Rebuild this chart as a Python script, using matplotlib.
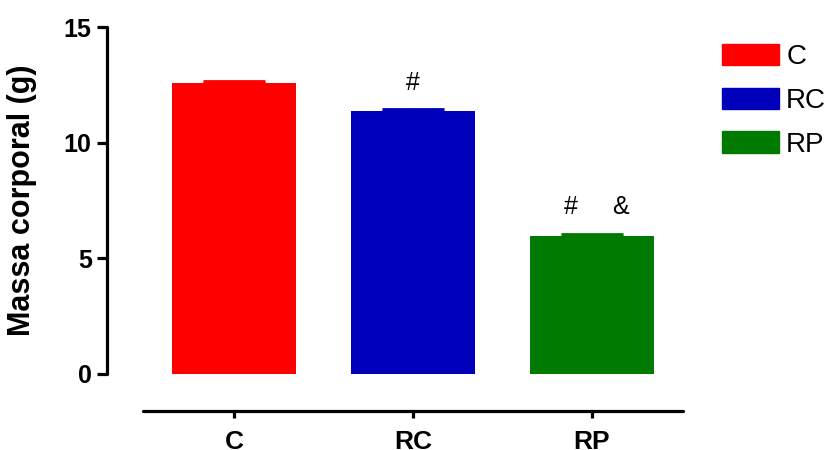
import numpy as np
import matplotlib
matplotlib.use('Agg')
import matplotlib.pyplot as plt
from matplotlib.patches import Patch

groups = ['C', 'RC', 'RP']
means = [12.6, 11.38, 5.97]
sems = [0.07, 0.06, 0.07]
colors = ['#ff0000', '#0000bb', '#007a00']

plt.rcParams['font.family'] = ['Liberation Sans', 'DejaVu Sans']

fig = plt.figure(figsize=(8.29, 4.5), dpi=100)
ax = fig.add_axes([107 / 829, 1 - 411 / 450, 576 / 829, 384 / 450])

x = np.arange(len(groups))
ax.bar(x, means, width=0.69, color=colors, zorder=2)
for xi, m, s, c in zip(x, means, sems, colors):
    ax.errorbar(xi, m, yerr=[[0], [s]], color=c, capsize=22, capthick=2,
                elinewidth=2, zorder=3)

# significance marks
ax.text(x[1], means[1] + 0.7, '#', ha='center', va='bottom', fontsize=18)
ax.text(x[2] - 0.12, means[2] + 0.75, '#', ha='center', va='bottom', fontsize=18)
ax.text(x[2] + 0.16, means[2] + 0.75, '&', ha='center', va='bottom', fontsize=18)

ax.set_xlim(-0.711, 2.509)
ax.set_ylim(-1.6, 15)
ax.spines['top'].set_visible(False)
ax.spines['right'].set_visible(False)
ax.spines['left'].set_bounds(0, 15)
ax.spines['bottom'].set_bounds(-0.509, 2.509)
ax.spines['left'].set_linewidth(2.3)
ax.spines['bottom'].set_linewidth(2.3)
ax.spines['left'].set_capstyle('round')
ax.spines['bottom'].set_capstyle('round')

ax.set_yticks([0, 5, 10, 15])
ax.set_xticks(x)
ax.set_xticklabels(groups)
ax.tick_params(axis='y', length=7, width=2.3, labelsize=18, pad=4)
ax.tick_params(axis='x', length=5, width=2.3, labelsize=19, pad=9)
for lab in ax.get_xticklabels() + ax.get_yticklabels():
    lab.set_fontweight('bold')

ax.set_ylabel('Massa corporal (g)', fontsize=22, fontweight='bold')
ax.yaxis.set_label_coords(-0.122, 0.55)

handles = [Patch(color=c, label=g) for g, c in zip(groups, colors)]
ax.legend(handles=handles, loc='upper left', bbox_to_anchor=(1.049, 0.985),
          frameon=False, fontsize=20, handlelength=2.05, handleheight=0.8,
          handletextpad=0.25, labelspacing=0.63, borderaxespad=0)

fig.savefig('out.png', dpi=100)
